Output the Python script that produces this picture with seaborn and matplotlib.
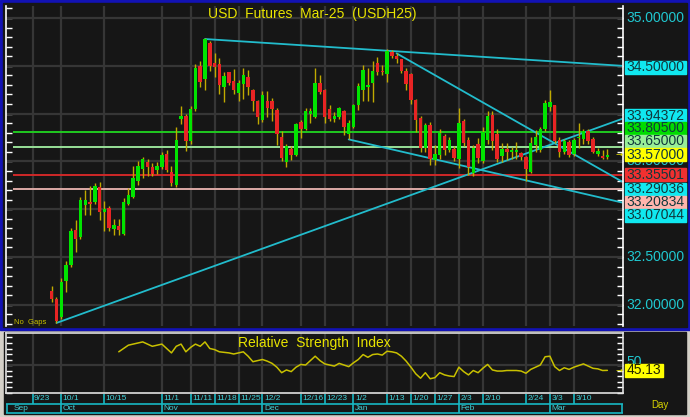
import numpy as np
import matplotlib
matplotlib.use("Agg")
import matplotlib.pyplot as plt
from matplotlib.patches import Rectangle
import seaborn as sns

# daily OHLC, bar 0 = 9/27
open_ = [32.14, 32.06, 31.87, 32.25, 32.42, 32.78, 32.71, 33.04, 33.07, 33.07,
         33.23, 32.97, 33.01, 32.79, 32.82, 32.74, 33.05, 33.13, 33.30, 33.42,
         33.49, 33.44, 33.41, 33.44, 33.58, 33.39, 33.25, 33.94, 33.97, 33.71,
         34.05, 34.50, 34.36, 34.74, 34.53, 34.52, 34.28, 34.43, 34.34, 34.22,
         34.31, 34.38, 34.25, 34.13, 33.93, 34.13, 34.13, 34.04, 33.75, 33.49,
         33.63, 33.57, 33.91, 33.84, 34.00, 33.96, 34.32, 34.25, 34.05, 33.94,
         33.96, 34.03, 33.79, 33.86, 34.09, 34.25, 34.28, 34.32, 34.53, 34.45,
         34.41, 34.64, 34.60, 34.57, 34.45, 34.41, 34.14, 33.95, 33.64, 33.88,
         33.51, 33.57, 33.77, 33.62, 33.63, 33.53, 33.92, 33.72, 33.38, 33.68,
         33.50, 33.72, 33.99, 33.79, 33.56, 33.63, 33.60, 33.60, 33.59, 33.55,
         33.39, 33.67, 33.62, 33.84, 34.07, 34.09, 33.72, 33.60, 33.70, 33.58,
         33.74, 33.73, 33.82, 33.73, 33.58, 33.56, 33.55]
high = [32.20, 32.08, 32.28, 32.46, 32.80, 32.89, 33.13, 33.20, 33.24, 33.27,
        33.28, 33.09, 33.03, 32.90, 32.90, 33.12, 33.22, 33.45, 33.50, 33.55,
        33.53, 33.48, 33.49, 33.60, 33.62, 33.45, 33.86, 34.08, 34.00, 34.08,
        34.52, 34.55, 34.79, 34.76, 34.63, 34.58, 34.43, 34.44, 34.47, 34.35,
        34.48, 34.46, 34.26, 34.14, 34.24, 34.24, 34.16, 34.06, 33.82, 33.68,
        33.66, 33.90, 33.93, 34.06, 34.06, 34.48, 34.40, 34.26, 34.09, 34.02,
        34.07, 34.04, 33.93, 34.10, 34.32, 34.51, 34.48, 34.55, 34.59, 34.51,
        34.68, 34.66, 34.63, 34.57, 34.48, 34.42, 34.15, 33.97, 33.90, 33.91,
        33.67, 33.84, 33.79, 33.76, 33.66, 34.06, 33.94, 33.75, 33.67, 33.74,
        33.86, 34.03, 34.03, 33.84, 33.69, 33.69, 33.65, 33.70, 33.60, 33.56,
        33.75, 33.83, 33.86, 34.14, 34.25, 34.09, 33.76, 33.73, 33.72, 33.74,
        33.90, 33.84, 33.84, 33.76, 33.64, 33.62, 33.63]
low = [32.03, 31.81, 31.85, 32.13, 32.40, 32.55, 32.69, 32.94, 32.94, 33.05,
       32.89, 32.77, 32.77, 32.73, 32.73, 32.73, 33.04, 33.12, 33.25, 33.33,
       33.35, 33.35, 33.37, 33.42, 33.39, 33.24, 33.23, 33.89, 33.61, 33.68,
       34.03, 34.28, 34.25, 34.45, 34.38, 34.20, 34.12, 34.30, 34.20, 34.13,
       34.15, 34.19, 34.03, 33.89, 33.91, 33.96, 33.92, 33.67, 33.50, 33.44,
       33.51, 33.56, 33.74, 33.83, 33.90, 33.95, 34.20, 33.90, 33.92, 33.91,
       33.94, 33.78, 33.73, 33.85, 34.04, 34.13, 34.13, 34.12, 34.40, 34.40,
       34.33, 34.58, 34.53, 34.42, 34.25, 34.10, 33.81, 33.60, 33.60, 33.46,
       33.46, 33.53, 33.57, 33.60, 33.50, 33.43, 33.66, 33.36, 33.35, 33.48,
       33.48, 33.68, 33.62, 33.49, 33.49, 33.51, 33.53, 33.52, 33.51, 33.29,
       33.38, 33.60, 33.60, 33.82, 34.03, 33.69, 33.55, 33.58, 33.55, 33.56,
       33.64, 33.68, 33.68, 33.59, 33.56, 33.52, 33.53]
close = [32.06, 31.83, 32.24, 32.42, 32.77, 32.69, 33.10, 33.10, 33.05, 33.24,
         32.97, 33.00, 32.80, 32.83, 32.78, 33.07, 33.15, 33.33, 33.45, 33.52,
         33.44, 33.37, 33.45, 33.57, 33.41, 33.27, 33.72, 33.97, 33.71, 34.05,
         34.48, 34.33, 34.78, 34.50, 34.49, 34.30, 34.39, 34.32, 34.25, 34.32,
         34.40, 34.28, 34.13, 33.96, 34.19, 34.06, 34.05, 33.79, 33.54, 33.66,
         33.57, 33.89, 33.84, 34.03, 34.03, 34.32, 34.23, 33.96, 33.94, 33.98,
         34.06, 33.86, 33.90, 34.09, 34.29, 34.46, 34.30, 34.45, 34.44, 34.43,
         34.65, 34.60, 34.57, 34.45, 34.31, 34.14, 33.93, 33.64, 33.88, 33.53,
         33.58, 33.80, 33.62, 33.72, 33.54, 33.90, 33.69, 33.44, 33.64, 33.54,
         33.81, 33.97, 33.71, 33.53, 33.63, 33.60, 33.61, 33.62, 33.55, 33.42,
         33.69, 33.75, 33.84, 34.11, 34.12, 33.71, 33.60, 33.71, 33.57, 33.72,
         33.76, 33.82, 33.71, 33.60, 33.61, 33.54, 33.57]

# RSI from bar 14 onwards
rsi_first_bar = 14
rsi = [62, 65, 68, 69, 70, 71, 69, 67, 68, 69,
       65, 61, 67, 69, 62, 66, 69, 67, 71, 65,
       64, 62, 61.5, 61, 60, 61, 62, 58, 53, 54,
       55, 53.5, 51.5, 48, 43, 45.5, 44, 48, 50.5, 50,
       54, 58, 54, 51, 50, 49, 51.5, 50, 48.5, 52,
       55, 59.5, 57, 59.5, 60, 59, 62.5, 62, 61, 58,
       53.5, 48, 42, 38, 43, 37.5, 38.5, 43, 41, 40,
       39.5, 48, 44, 41, 45, 43, 47, 50.5, 45.5, 44.5,
       44.5, 45, 45, 45, 44.5, 42.5, 46, 48, 50, 57.5,
       58, 48.5, 45, 47.5, 46, 48, 49.5, 51, 49, 47,
       46.5, 45, 45.13]

# date axis (bar index of each label)
day_ticks = [-4, 2, 11, 23, 29, 34, 39, 44, 52, 57, 63, 70, 75, 80, 85, 90, 99, 104, 109]
day_labels = ["9/23", "10/1", "10/15", "11/1", "11/11", "11/18", "11/25", "12/2", "12/16",
              "12/23", "1/2", "1/13", "1/20", "1/27", "2/3", "2/10", "2/24", "3/3", "3/10"]
month_ticks = [2, 23, 44, 63, 85, 104]
month_labels = ["Oct", "Nov", "Dec", "Jan", "Feb", "Mar"]

# horizontal levels
level_values = [33.805, 33.65, 33.35501, 33.20834]
level_colors = ["#20c820", "#98e098", "#d02828", "#dcaaa6"]

# trend lines: start bar/price, end bar/price
trend_x0 = [32, 72, 62, 1]
trend_y0 = [34.78, 34.63, 33.73, 31.81]
trend_x1 = [119, 119, 119, 119]
trend_y1 = [34.50, 33.29036, 33.07044, 33.94372]

# price labels on the right
axis_labels = [35.0, 33.5, 32.5, 32.0]
box_text = ["34.50000", "33.94372", "33.80500", "33.65000", "33.57000",
            "33.35501", "33.29036", "33.20834", "33.07044"]
box_pos = [34.487, 33.980, 33.849, 33.713, 33.567, 33.358, 33.211, 33.075, 32.934]
CYAN = "#10e8f0"
box_colors = [CYAN, CYAN, "#00dc00", "#98ee98", "#ffff00", "#f03030", CYAN, "#ffb4ac", CYAN]
last_price = 33.57
last_rsi = 45.13

BG = "#161616"
GRID = "#363636"
TREND = "#22bccc"
TXT_CYAN = "#20c8d0"
YEL = "#e8e400"

W, H = 690, 417
sns.set_theme(style="dark")
plt.rcParams["font.family"] = ["Liberation Sans", "DejaVu Sans"]


def rect(x0, y0, x1, y1):
    return [x0 / W, 1 - y1 / H, (x1 - x0) / W, (y1 - y0) / H]


fig = plt.figure(figsize=(6.9, 4.17), dpi=100, facecolor="#d4d0c8")
fig.patches.append(Rectangle((0, 1 - 330 / H), 1, 330 / H, transform=fig.transFigure,
                             color="#1212b4", zorder=-10))
fig.patches.append(Rectangle((3 / W, 1 - 327 / H), 684 / W, 324 / H, transform=fig.transFigure,
                             color=BG, zorder=-9))
fig.patches.append(Rectangle((4 / W, 1 - 414 / H), 682 / W, 82 / H, transform=fig.transFigure,
                             color=BG, zorder=-9))

XMIN, XMAX = -9.54, 119.26

# ---------------- main price panel
ax = fig.add_axes(rect(6, 6, 623, 326))
ax.set_facecolor(BG)
ax.set_xlim(XMIN, XMAX)
ax.set_ylim(31.778, 35.1255)
for s in ["top", "bottom"]:
    ax.spines[s].set_visible(False)
for s in ["left", "right"]:
    ax.spines[s].set_color("white")
    ax.spines[s].set_linewidth(1.2)
ax.set_xticks([])
ax.set_yticks(np.arange(31.8, 35.11, 0.1))
ax.tick_params(axis="y", which="both", direction="in", length=4, width=1, color="white",
               left=True, right=True, labelleft=False, labelright=False)
ax.grid(False)
for t in day_ticks:
    ax.axvline(t, color=GRID, lw=1.6, zorder=1)
for p in np.arange(32.0, 35.01, 0.5):
    ax.axhline(p, color=GRID, lw=1.6, zorder=1)

for v, c in zip(level_values, level_colors):
    ax.hlines(v, -8, XMAX, color=c, lw=1.4, zorder=2)

for x0, y0, x1, y1 in zip(trend_x0, trend_y0, trend_x1, trend_y1):
    ax.plot([x0, x1], [y0, y1], color=TREND, lw=1.3, zorder=2)

o = np.array(open_)
c = np.array(close)
xb = np.arange(len(close))
up = c >= o
ax.vlines(xb, low, high, color="#c0aa00", lw=1.0, zorder=3)
body_lo = np.minimum(o, c)
body_h = np.maximum(np.abs(c - o), 0.014)
ax.bar(xb, body_h, bottom=body_lo, width=0.72,
       color=np.where(up, "#00e400", "#e82424"), linewidth=0, zorder=4)
ax.text(len(close) + 0.6, last_price, "→", color=YEL, fontsize=6,
        ha="left", va="center", family="DejaVu Sans", zorder=5)

tr = ax.get_yaxis_transform()
for p in axis_labels:
    ax.text(1.006, p, f"{p:.5f}", transform=tr, color=TXT_CYAN, fontsize=10,
            ha="left", va="center", clip_on=False, zorder=5)
bh = 13 / 95.6
for t, p, col in zip(box_text, box_pos, box_colors):
    ax.add_patch(Rectangle((1.0032, p - bh / 2), 0.099, bh, transform=tr, color=col,
                           clip_on=False, zorder=6))
    ax.text(1.006, p, t, transform=tr, color="#10383c", fontsize=10,
            ha="left", va="center", clip_on=False, zorder=7)

fig.text(312 / W, 1 - 14 / H, "USD  Futures  Mar-25  (USDH25)", color=YEL,
         fontsize=10, ha="center", va="center")
fig.text(14 / W, 1 - 323 / H, "No  Gaps", color="#c8c000", fontsize=5.5,
         ha="left", va="center")

# ---------------- RSI panel
ax2 = fig.add_axes(rect(6, 333, 623, 393))
ax2.set_facecolor(BG)
ax2.set_xlim(XMIN, XMAX)
ax2.set_ylim(24.55, 79.09)
for s in ax2.spines.values():
    s.set_color("#e0e0e0")
    s.set_linewidth(1.2)
ax2.set_xticks([])
ax2.set_yticks(np.arange(25, 80, 5))
ax2.tick_params(axis="y", direction="in", length=4, width=1, color="white",
                left=True, right=True, labelleft=False, labelright=False)
ax2.grid(False)
for t in day_ticks:
    ax2.axvline(t, color=GRID, lw=1.6, zorder=1)
ax2.axhline(50, color=GRID, lw=1.6, zorder=1)
rsi_x = np.arange(rsi_first_bar, rsi_first_bar + len(rsi))
sns.lineplot(x=rsi_x, y=rsi, ax=ax2, color="#c8c000", lw=1.1, zorder=3)
ax2.set_xlabel("")
ax2.set_ylabel("")
ax2.text(len(close) + 0.6, last_rsi, "→", color=YEL, fontsize=6,
         ha="left", va="center", family="DejaVu Sans", zorder=5)
tr2 = ax2.get_yaxis_transform()
ax2.text(1.006, 53, "50", transform=tr2, color=TXT_CYAN, fontsize=10,
         ha="left", va="center", clip_on=False)
ax2.add_patch(Rectangle((1.0032, last_rsi - 6.2), 0.062, 12.4, transform=tr2,
                        color="#ffff00", clip_on=False, zorder=6))
ax2.text(1.006, last_rsi, f"{last_rsi:.2f}", transform=tr2, color="#202000",
         fontsize=10, ha="left", va="center", clip_on=False, zorder=7)
ax2.text(0.5, 1 - 10 / 60, "Relative  Strength  Index", transform=ax2.transAxes,
         color=YEL, fontsize=10, ha="center", va="center")

# ---------------- date axis
ax3 = fig.add_axes(rect(6, 393, 623, 414))
ax3.set_facecolor(BG)
ax3.set_xlim(XMIN, XMAX)
ax3.set_ylim(0, 1)
ax3.axis("off")
DCYAN = "#18b8c4"
ax3.hlines([0.5, 0.04], XMIN, XMAX, color=DCYAN, lw=1.2)
ax3.vlines(day_ticks, 0.5, 0.95, color=DCYAN, lw=1.2)
ax3.vlines(month_ticks + [XMIN + 0.2, XMAX - 0.2], 0.04, 0.5, color=DCYAN, lw=1.2)
for t, lab in zip(day_ticks, day_labels):
    ax3.text(t + 0.3, 0.74, lab, color="#40d0d8", fontsize=6, ha="left", va="center")
ax3.text(XMIN + 1.5, 0.25, "Sep", color="#40d0d8", fontsize=6, ha="left", va="center")
for t, lab in zip(month_ticks, month_labels):
    ax3.text(t + 0.3, 0.25, lab, color="#40d0d8", fontsize=6, ha="left", va="center")
fig.text(660 / W, 1 - 405 / H, "Day", color="#d8d400", fontsize=7, ha="center", va="center")

fig.savefig("out.png", dpi=100, facecolor=fig.get_facecolor())
